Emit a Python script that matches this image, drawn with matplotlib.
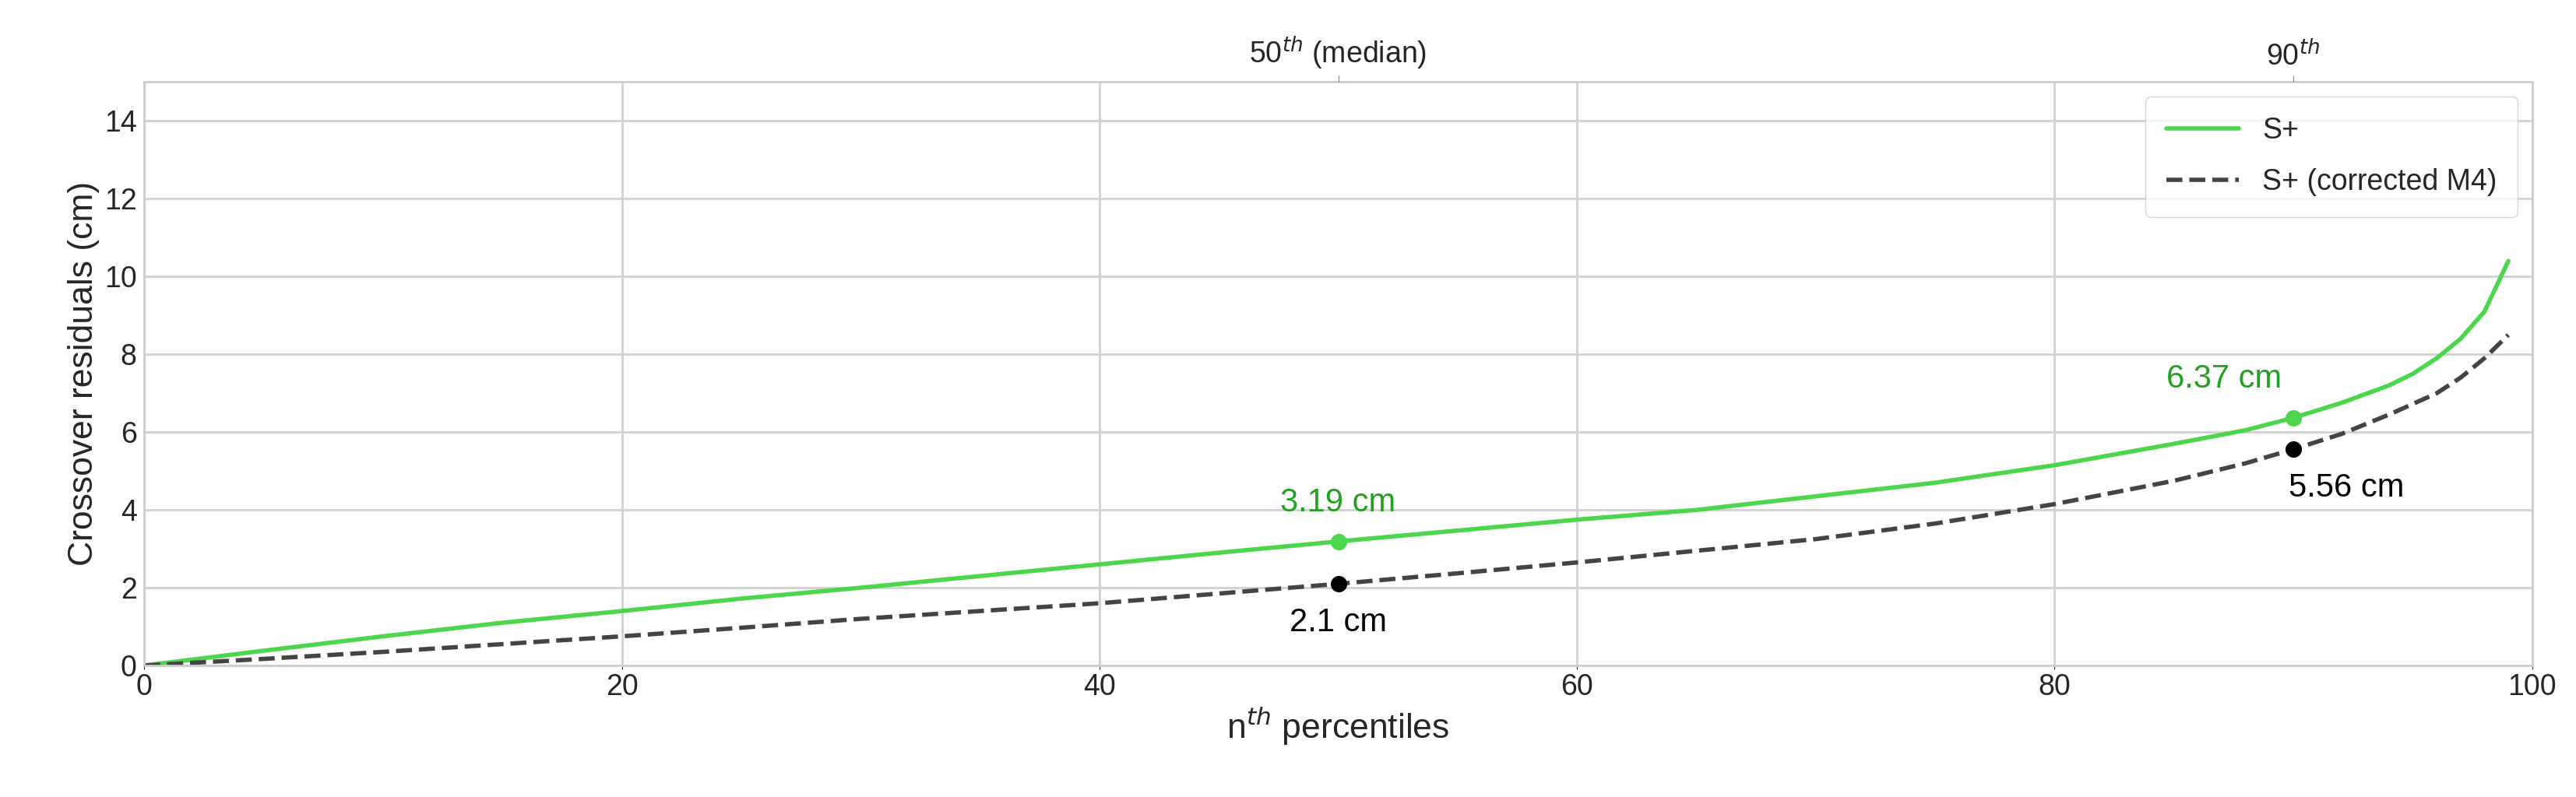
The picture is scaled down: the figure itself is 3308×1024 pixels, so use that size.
import matplotlib
matplotlib.use("Agg")
import matplotlib.pyplot as plt
import seaborn as sns

sns.set_style("whitegrid")
plt.rcParams['font.family'] = ['Liberation Sans', 'DejaVu Sans']

pct_s = [0, 5, 10, 15, 20, 25, 30, 35, 40, 45, 50, 55, 60, 65, 70, 75, 80, 85, 88, 90, 92, 94, 95, 96, 97, 98, 99]
res_s = [0, 0.38, 0.75, 1.1, 1.4, 1.72, 2.0, 2.3, 2.6, 2.9, 3.19, 3.47, 3.75, 4.0, 4.35, 4.7, 5.15, 5.7, 6.05, 6.37, 6.75, 7.2, 7.5, 7.9, 8.4, 9.1, 10.4]
pct_c = [0, 5, 10, 15, 20, 25, 30, 35, 40, 45, 50, 55, 60, 65, 70, 75, 80, 85, 88, 90, 92, 94, 96, 97, 98, 99]
res_c = [0, 0.17, 0.35, 0.55, 0.75, 0.97, 1.2, 1.4, 1.6, 1.85, 2.1, 2.37, 2.65, 2.95, 3.25, 3.65, 4.15, 4.75, 5.2, 5.56, 5.95, 6.45, 7.0, 7.4, 7.9, 8.5]

marks = [50, 90]
mark_s = [3.19, 6.37]
mark_c = [2.1, 5.56]
top_labels = ['50$^{th}$ (median)', '90$^{th}$']

fig = plt.figure(figsize=(33.08, 10.24), dpi=100)
ax = fig.add_axes([0.056, 0.165, 0.927, 0.732])
green = '#4cd64c'
ax.plot(pct_s, res_s, color=green, lw=4, label='S+')
ax.plot(pct_c, res_c, color='#444444', lw=4, ls='--', label='S+ (corrected M4)')
ax.scatter(marks, mark_s, color=green, s=200, zorder=5)
ax.scatter(marks, mark_c, color='black', s=200, zorder=5)
ax.text(marks[0], mark_s[0] + 0.6, f'{mark_s[0]} cm', color='#22a022', fontsize=30, ha='center', va='bottom')
ax.text(marks[1] - 0.5, mark_s[1] + 0.6, f'{mark_s[1]} cm', color='#22a022', fontsize=30, ha='right', va='bottom')
ax.text(marks[0], mark_c[0] - 0.6, f'{mark_c[0]} cm', color='black', fontsize=30, ha='center', va='top')
ax.text(marks[1] - 0.2, mark_c[1] - 0.6, f'{mark_c[1]} cm', color='black', fontsize=30, ha='left', va='top')

ax.set_xlim(0, 100)
ax.set_ylim(0, 15)
ax.set_yticks(range(0, 15, 2))
ax.tick_params(labelsize=27)
ax.grid(color='#d0d0d0', lw=2)
ax.set_xlabel('n$^{th}$ percentiles', fontsize=32)
ax.set_ylabel('Crossover residuals (cm)', fontsize=32)
for s in ax.spines.values():
    s.set_color('#cccccc')
    s.set_linewidth(2)
ax.legend(loc='upper right', fontsize=27, frameon=True, borderpad=0.7, labelspacing=0.8, handlelength=2.5)

ax2 = ax.twiny()
ax2.set_xlim(ax.get_xlim())
ax2.set_xticks(marks)
ax2.set_xticklabels(top_labels, fontsize=27)
ax2.tick_params(length=6, color='#888888')
ax2.grid(False)
for s in ax2.spines.values():
    s.set_visible(False)

fig.savefig('out.png', dpi=100)
